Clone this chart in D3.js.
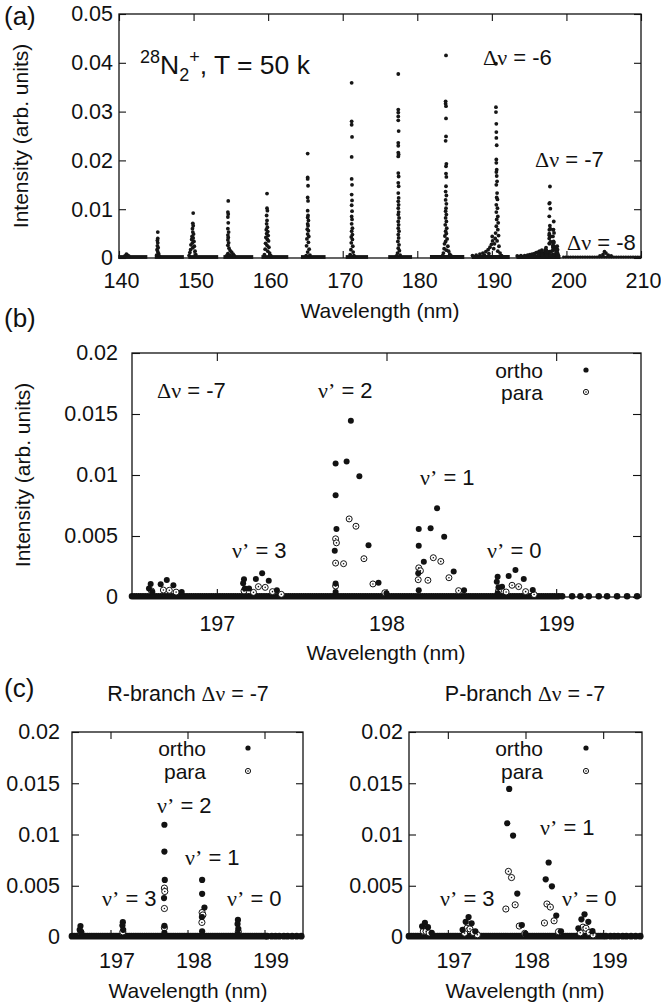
<!DOCTYPE html>
<html>
<head>
<meta charset="utf-8">
<script src="https://cdn.jsdelivr.net/npm/d3@7"></script>
<style>
body { margin: 0; background: #fff; }
text { font-family: "Liberation Sans", Arial, Helvetica, sans-serif; fill: #111; }
.gr { font-family: "Liberation Serif", "Times New Roman", serif; }
</style>
</head>
<body>
<div id="fig"></div>
<script>
// ---------- panel (a): full spectrum, [wavelength nm, intensity] ----------
var band141 = [[140.8,0.0002],[141.0,0.0006],[141.1,0.0004],[141.3,0.0002]];
var band145 = [[145.2,0.0051],[145.2,0.0038],[145.15,0.0034],[145.2,0.0029],[145.15,0.0023],[145.25,0.0019],[145.1,0.0015],[145.2,0.0011],[145.3,0.0007],[145.05,0.0004],[145.4,0.0002]];
var band150 = [[149.95,0.0090],[149.9,0.0069],[149.95,0.0064],[149.85,0.0058],[149.9,0.0051],[150.0,0.0047],[149.8,0.0042],[149.95,0.0039],[149.75,0.0036],[150.05,0.0032],[149.85,0.0029],[149.65,0.0025],[150.1,0.0022],[149.9,0.0019],[149.6,0.0015],[150.2,0.0012],[149.5,0.0009],[150.3,0.0005],[149.4,0.0003]];
var band155 = [[154.65,0.0115],[154.6,0.0092],[154.65,0.0088],[154.6,0.0082],[154.65,0.0070],[154.6,0.0058],[154.7,0.0051],[154.6,0.0045],[154.65,0.0040],[154.6,0.0035],[154.7,0.0029],[154.6,0.0024],[154.75,0.0018],[154.9,0.0013],[155.1,0.0010],[154.6,0.0007],[155.3,0.0006],[154.9,0.0004],[155.45,0.0003],[154.4,0.0002]];
var band160 = [[159.85,0.0130],[159.85,0.0100],[159.9,0.0095],[159.8,0.0085],[159.85,0.0075],[159.8,0.0068],[159.9,0.0061],[159.75,0.0056],[159.95,0.0052],[159.8,0.0048],[160.0,0.0044],[159.7,0.0040],[159.9,0.0036],[160.05,0.0033],[159.65,0.0028],[159.85,0.0024],[160.1,0.0020],[159.6,0.0016],[159.95,0.0012],[160.2,0.0008],[159.5,0.0005],[160.35,0.0003]];
var band165 = [[165.3,0.0212],[165.3,0.0163],[165.3,0.0160],[165.35,0.0146],[165.3,0.0122],[165.35,0.0115],[165.3,0.0095],[165.35,0.0085],[165.3,0.0081],[165.4,0.0075],[165.3,0.0068],[165.35,0.0064],[165.25,0.0057],[165.4,0.0054],[165.3,0.0047],[165.45,0.0042],[165.2,0.0037],[165.4,0.0030],[165.15,0.0023],[165.5,0.0016],[165.3,0.0010],[165.6,0.0004],[165.1,0.0003]];
var band171 = [[171.2,0.0357],[171.2,0.0278],[171.2,0.0271],[171.25,0.0246],[171.2,0.0205],[171.2,0.0160],[171.25,0.0148],[171.2,0.0128],[171.25,0.0116],[171.2,0.0106],[171.25,0.0094],[171.2,0.0083],[171.25,0.0077],[171.2,0.0068],[171.3,0.0059],[171.2,0.0053],[171.3,0.0046],[171.15,0.0041],[171.3,0.0036],[171.15,0.0029],[171.35,0.0022],[171.1,0.0015],[171.4,0.0010],[171.0,0.0005],[171.5,0.0003]];
var band177 = [[177.45,0.0375],[177.45,0.0302],[177.45,0.0296],[177.45,0.0288],[177.45,0.0280],[177.5,0.0258],[177.45,0.0234],[177.45,0.0228],[177.45,0.0214],[177.5,0.0210],[177.45,0.0206],[177.45,0.0172],[177.5,0.0165],[177.45,0.0152],[177.5,0.0145],[177.45,0.0131],[177.5,0.0121],[177.45,0.0114],[177.5,0.0107],[177.45,0.0100],[177.5,0.0092],[177.45,0.0087],[177.55,0.0080],[177.45,0.0073],[177.5,0.0066],[177.45,0.0059],[177.55,0.0053],[177.45,0.0046],[177.5,0.0039],[177.4,0.0032],[177.55,0.0025],[177.45,0.0018],[177.6,0.0013],[177.35,0.0008],[177.7,0.0004],[177.2,0.0002]];
var band184 = [[183.85,0.0413],[183.8,0.0319],[183.8,0.0314],[183.85,0.0309],[183.85,0.0284],[183.85,0.0247],[183.8,0.0238],[183.9,0.0191],[183.85,0.0186],[183.85,0.0171],[183.9,0.0164],[183.85,0.0145],[183.8,0.0134],[183.9,0.0126],[183.8,0.0117],[183.9,0.0109],[183.85,0.0100],[183.8,0.0094],[183.9,0.0087],[183.8,0.0080],[183.9,0.0073],[183.75,0.0066],[183.95,0.0059],[183.8,0.0053],[183.9,0.0048],[183.7,0.0043],[184.0,0.0037],[183.8,0.0032],[183.65,0.0027],[184.1,0.0022],[183.6,0.0017],[183.9,0.0014],[184.2,0.0012],[183.5,0.0008],[184.35,0.0006],[183.4,0.0003],[184.5,0.0003]];
var band190 = [[190.55,0.0396],[190.55,0.0307],[190.55,0.0297],[190.6,0.0273],[190.6,0.0256],[190.6,0.0244],[190.65,0.0229],[190.6,0.0200],[190.6,0.0193],[190.65,0.0179],[190.6,0.0174],[190.65,0.0166],[190.7,0.0155],[190.6,0.0148],[190.7,0.0131],[190.65,0.0122],[190.75,0.0118],[190.6,0.0107],[190.75,0.0100],[190.6,0.0092],[190.8,0.0083],[190.65,0.0077],[190.85,0.0070],[190.6,0.0063],[190.8,0.0056],[190.5,0.0049],[190.9,0.0044],[190.45,0.0038],[190.7,0.0033],[190.35,0.0027],[190.95,0.0022],[190.25,0.0017],[190.8,0.0012],[191.1,0.0008],[191.3,0.0003]];
var tail190 = [[187.4,0.0003],[187.9,0.0004],[188.4,0.0006],[188.8,0.0008],[189.2,0.0011],[189.5,0.0015],[189.75,0.0020],[189.95,0.0026],[190.1,0.0033],[190.05,0.0042],[189.0,0.0004],[189.6,0.0007]];
var tail197 = [[193.4,0.0002],[193.9,0.0003],[194.4,0.0003],[194.8,0.0004],[195.1,0.0005],[195.4,0.0006],[195.7,0.0007],[195.95,0.0009],[196.2,0.0010],[196.4,0.0012],[195.8,0.0003],[196.25,0.0005]];
var band205 = [[204.5,0.0002],[204.9,0.0005],[205.1,0.0011],[205.3,0.0008],[205.6,0.0004],[206.0,0.0002]];
// dense rows of near-zero lines along the axis in (a): [from, to]
var zeroRowsA = [[139.9,143.8],[144.8,148.7],[149.3,153.3],[154.0,158.0],[159.1,162.7],[164.4,167.7],[170.4,173.4],[176.1,179.3],[181.7,186.3],[187.3,192.4],[193.3,199.2]];
var zeroRowsAthin = [[199.6,210]];

// ---------- Δv = -7 detail, R and P branches, ortho / para ----------
var rOrtho = [[196.61,0.00107],[196.60,0.0007],[196.62,0.0004],
  [197.16,0.00145],[197.155,0.00112],[197.165,0.0007],
  [197.70,0.01095],[197.70,0.00833],[197.705,0.00557],[197.695,0.0038],[197.70,0.0011],[197.70,0.0004],
  [198.19,0.00557],[198.19,0.00421],[198.22,0.00288],[198.187,0.00195],[198.19,0.00055],
  [198.655,0.00167],[198.65,0.00126],[198.66,0.0008],[198.655,0.0003]];
var rPara = [[196.615,0.0005],[197.16,0.0005],
  [197.70,0.00477],[197.705,0.00444],[197.70,0.00278],[197.70,0.0009],
  [198.19,0.00239],[198.2,0.00215],[198.187,0.00142],[198.66,0.0005]];
var pOrtho = [[196.669,0.00104],[196.705,0.00139],[196.744,0.00096],[196.793,0.0004],
  [197.19,0.0007],[197.23,0.00148],[197.267,0.00194],[197.306,0.00134],[197.354,0.00055],
  [197.765,0.0111],[197.79,0.01445],[197.84,0.0099],[197.894,0.00424],[197.953,0.00117],[198.0,0.0003],
  [198.26,0.00563],[198.298,0.00727],[198.34,0.00494],[198.396,0.0021],[198.457,0.00055],
  [198.681,0.00085],[198.72,0.00172],[198.76,0.00221],[198.809,0.00148],[198.862,0.00057]];
var pPara = [[196.685,0.00057],[196.72,0.00055],[196.76,0.0004],
  [197.216,0.00038],[197.245,0.00085],[197.285,0.00079],[197.328,0.00044],[197.38,0.00022],
  [197.747,0.00273],[197.78,0.0064],[197.82,0.0058],[197.867,0.00314],[197.92,0.00107],[197.99,0.00035],
  [198.244,0.00137],[198.276,0.00322],[198.32,0.00292],[198.368,0.00158],[198.425,0.00052],
  [198.705,0.00041],[198.74,0.00096],[198.779,0.00085],[198.82,0.00044],[198.87,0.0002]];
// zero-intensity lines: a dense row, then single lines toward the red end
var zeroRowD = [[196.5,199.02]];
var zeroLinesD = [199.035,199.094,199.143,199.192,199.251,199.3,199.359,199.418,199.477];

// ---------- axes ----------
var ticksA = [140,150,160,170,180,190,200,210];
var yTicksA = [0,0.01,0.02,0.03,0.04,0.05];
var ticksD = [197,198,199];
var yTicksD = [0,0.005,0.01,0.015,0.02];

var svg = d3.select("#fig").append("svg").attr("width", 661).attr("height", 1008);
var INK = "#121212";

function panel(box, xDom, yDom, xT, yT, fs, xPad, yPad, tk, xdx) {
  var x = d3.scaleLinear().domain(xDom).range([box.l, box.r]);
  var y = d3.scaleLinear().domain(yDom).range([box.b, box.t]);
  var g = svg.append("g");
  g.append("rect").attr("x", box.l).attr("y", box.t)
    .attr("width", box.r - box.l).attr("height", box.b - box.t)
    .attr("fill", "none").attr("stroke", INK).attr("stroke-width", 1.3);
  var fmt = d => String(d);
  var bottom = g.append("g").attr("transform", `translate(0,${box.b})`)
    .call(d3.axisBottom(x).tickValues(xT).tickFormat(fmt).tickSizeInner(-tk).tickSizeOuter(0).tickPadding(xPad));
  var axes = [
    bottom,
    g.append("g").attr("transform", `translate(0,${box.t})`)
      .call(d3.axisTop(x).tickValues(xT).tickFormat("").tickSizeInner(-tk).tickSizeOuter(0)),
    g.append("g").attr("transform", `translate(${box.l},0)`)
      .call(d3.axisLeft(y).tickValues(yT).tickFormat(fmt).tickSizeInner(-tk).tickSizeOuter(0).tickPadding(yPad)),
    g.append("g").attr("transform", `translate(${box.r},0)`)
      .call(d3.axisRight(y).tickValues(yT).tickFormat("").tickSizeInner(-tk).tickSizeOuter(0))
  ];
  axes.forEach(function(a) {
    a.select(".domain").remove();
    a.selectAll("line").attr("stroke", INK).attr("stroke-width", 1.1);
    a.selectAll("text").style("font-size", fs + "px").attr("fill", INK);
  });
  if (xdx) bottom.selectAll("text").attr("dx", xdx);
  return {x: x, y: y, g: g};
}

function label(x, y, parts, fs, anchor) {
  var t = svg.append("text").attr("x", x).attr("y", y).attr("dy", "0.35em")
    .style("font-size", fs + "px").attr("text-anchor", anchor || "start");
  parts.forEach(function(p) {
    var s = t.append("tspan").text(p[0]);
    if (p[1]) s.attr("class", "gr");
  });
  return t;
}
function nu(x, y, v) { return label(x, y, [["ν’", 1], [" = " + v]], 22); }
function ytitle(x, y) {
  svg.append("text").attr("transform", `translate(${x},${y}) rotate(-90)`)
    .attr("dy", "0.35em").attr("text-anchor", "middle").style("font-size", "21px")
    .text("Intensity (arb. units)");
}

// ---------- (a) ----------
var A = panel({l: 119, r: 641, t: 14, b: 258}, [140, 210], [0, 0.05], ticksA, yTicksA, 21.5, 14.5, 6, 7, 2);
A.g.selectAll(".zrow").data(zeroRowsA).enter().append("line")
  .attr("x1", d => A.x(d[0])).attr("x2", d => A.x(d[1]))
  .attr("y1", A.y(0) - 1).attr("y2", A.y(0) - 1)
  .attr("stroke", "#161616").attr("stroke-width", 3.8);
A.g.selectAll(".zthin").data(zeroRowsAthin).enter().append("line")
  .attr("x1", d => A.x(d[0])).attr("x2", d => A.x(d[1]))
  .attr("y1", A.y(0) - 1).attr("y2", A.y(0) - 1)
  .attr("stroke", "#161616").attr("stroke-width", 2.8)
  .attr("stroke-dasharray", "0,2.4").attr("stroke-linecap", "round");
var allA = [].concat(band141, band145, band150, band155, band160, band165, band171,
  band177, band184, band190, tail190, tail197, rOrtho, rPara, pOrtho, pPara, band205);
A.g.selectAll(".pa").data(allA).enter().append("circle")
  .attr("cx", d => A.x(d[0])).attr("cy", d => A.y(d[1]) - 1)
  .attr("r", 1.9).attr("fill", "#161616");

svg.append("text").attr("x", 4).attr("y", 25).style("font-size", "26px").text("(a)");
ytitle(21, 136);
svg.append("text").attr("x", 380).attr("y", 318).attr("text-anchor", "middle").style("font-size", "21px").text("Wavelength (nm)");
var tt = svg.append("text").attr("x", 140).attr("y", 74).style("font-size", "26.5px");
tt.append("tspan").text("28").style("font-size", "18px").attr("dy", -11);
tt.append("tspan").text("N").attr("dy", 11);
tt.append("tspan").text("2").style("font-size", "18px").attr("dy", 7);
tt.append("tspan").text("+").style("font-size", "18px").attr("dy", -18);
tt.append("tspan").text(", T = 50 k").attr("dy", 11);
label(483, 57, [["Δν", 1], [" = -6"]], 22);
label(535, 159, [["Δν", 1], [" = -7"]], 22);
label(567, 242, [["Δν", 1], [" = -8"]], 22);

// ---------- shared drawing of the Δv = -7 detail ----------
function detail(P, ortho, para, r) {
  P.g.selectAll(".zr").data(zeroRowD).enter().append("line")
    .attr("x1", d => P.x(d[0])).attr("x2", d => P.x(d[1]))
    .attr("y1", P.y(0) - 0.8).attr("y2", P.y(0) - 0.8)
    .attr("stroke", INK).attr("stroke-width", 2 * r + 0.6)
    .attr("stroke-linecap", "round").attr("stroke-dasharray", "0,2.2");
  P.g.selectAll(".zl").data(zeroLinesD).enter().append("circle")
    .attr("cx", d => P.x(d)).attr("cy", P.y(0) - 0.8).attr("r", r + 0.3).attr("fill", INK);
  var pg = P.g.selectAll(".pp").data(para).enter().append("g")
    .attr("transform", d => `translate(${P.x(d[0])},${P.y(d[1])})`);
  pg.append("circle").attr("r", r).attr("fill", "#fff").attr("stroke", INK).attr("stroke-width", 1);
  pg.append("circle").attr("r", 0.8).attr("fill", INK);
  P.g.selectAll(".po").data(ortho).enter().append("circle")
    .attr("cx", d => P.x(d[0])).attr("cy", d => P.y(d[1]))
    .attr("r", r).attr("fill", INK);
}
function legend(xr, xs, y1, y2, r) {
  label(xr, y1, [["ortho"]], 21, "end");
  label(xr, y2, [["para"]], 21, "end");
  svg.append("circle").attr("cx", xs).attr("cy", y1 - 1).attr("r", r).attr("fill", INK);
  svg.append("circle").attr("cx", xs).attr("cy", y2 - 1).attr("r", r).attr("fill", "#fff").attr("stroke", INK).attr("stroke-width", 1);
  svg.append("circle").attr("cx", xs).attr("cy", y2 - 1).attr("r", 0.8).attr("fill", INK);
}

// ---------- (b) ----------
var B = panel({l: 132, r: 641, t: 353, b: 597}, [196.5, 199.5], [0, 0.02], ticksD, yTicksD, 21.5, 18.5, 14, 8);
detail(B, [].concat(rOrtho, pOrtho), [].concat(rPara, pPara), 3);
svg.append("text").attr("x", 4).attr("y", 327).style("font-size", "26px").text("(b)");
ytitle(23, 475);
svg.append("text").attr("x", 386).attr("y", 660).attr("text-anchor", "middle").style("font-size", "21px").text("Wavelength (nm)");
label(157, 390, [["Δν", 1], [" = -7"]], 22);
nu(318, 390, 2); nu(232, 550, 3); nu(420, 477, 1); nu(487, 550, 0);
legend(543, 586, 371, 393, 2.6);

// ---------- (c) ----------
var CL = panel({l: 72, r: 303, t: 732, b: 937}, [196.5, 199.5], [0, 0.02], ticksD, yTicksD, 21.5, 15.5, 12, 7, 6);
detail(CL, rOrtho, rPara, 3.1);
var CR = panel({l: 409, r: 642, t: 732, b: 937}, [196.5, 199.5], [0, 0.02], ticksD, yTicksD, 21.5, 15.5, 6, 7, 6);
detail(CR, pOrtho, pPara, 3.1);
svg.append("text").attr("x", 4).attr("y", 697).style("font-size", "26px").text("(c)");
label(188, 693, [["R-branch "], ["Δν", 1], [" = -7"]], 21.5, "middle");
label(525, 693, [["P-branch "], ["Δν", 1], [" = -7"]], 21.5, "middle");
svg.append("text").attr("x", 188).attr("y", 998).attr("text-anchor", "middle").style("font-size", "21px").text("Wavelength (nm)");
svg.append("text").attr("x", 525).attr("y", 998).attr("text-anchor", "middle").style("font-size", "21px").text("Wavelength (nm)");
legend(206, 248, 749, 772, 2.6);
legend(543, 586, 749, 772, 2.6);
nu(157, 805, 2); nu(185, 857, 1); nu(102, 898, 3); nu(227, 898, 0);
nu(540, 827, 1); nu(440, 898, 3); nu(562, 898, 0);
</script>
</body>
</html>
